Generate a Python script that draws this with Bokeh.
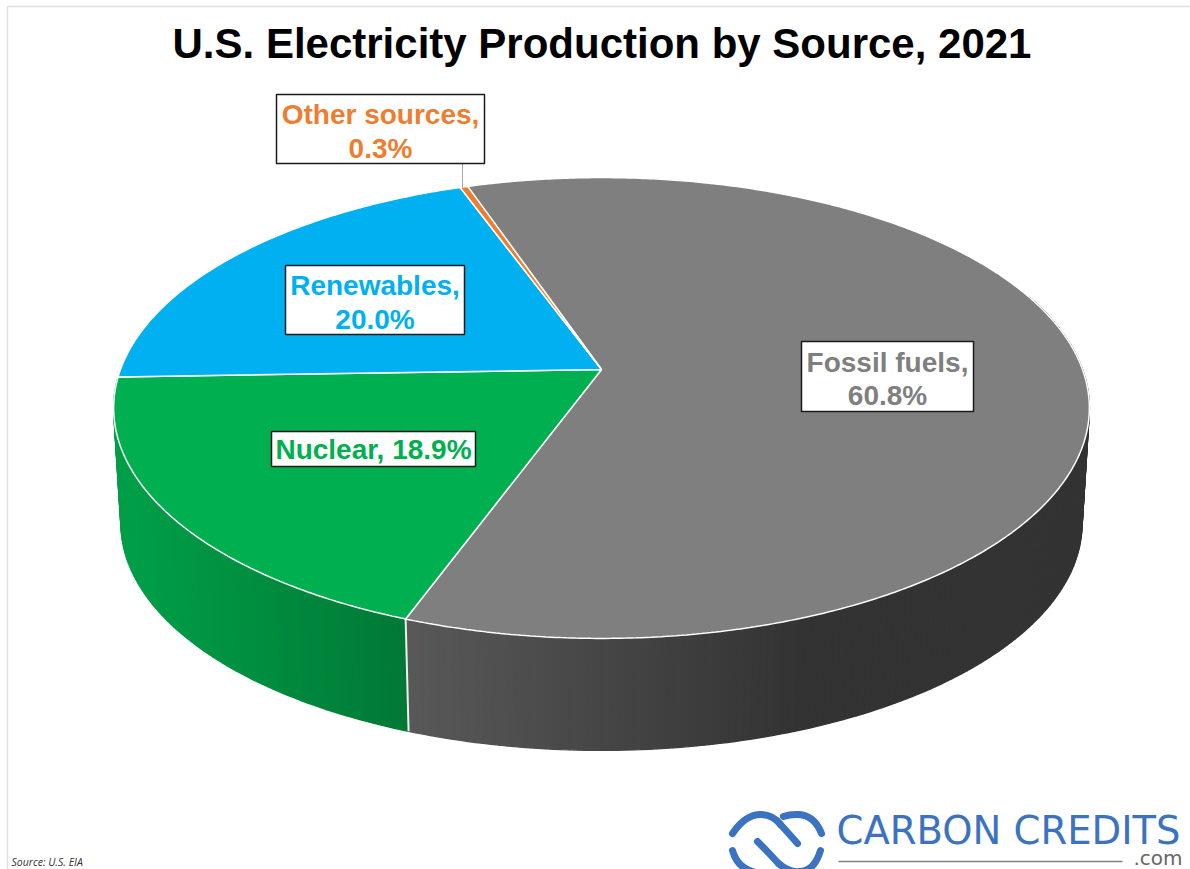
import numpy as np
from bokeh.plotting import figure
from bokeh.models import Range1d
from bokeh.core.properties import value
from bokeh.embed import file_html
from bokeh.resources import INLINE

TITLE = "U.S. Electricity Production by Source, 2021"
sources = ["Fossil fuels", "Nuclear", "Renewables", "Other sources"]
shares = [60.8, 18.9, 20.0, 0.3]
top_colors = ["#7F7F7F", "#00B050", "#00B0F0", "#ED7D31"]

START_DEG = -18.8
CX, CY = 601.0, 369.0
A, B, K = 481.0, 224.0, 0.167
WALL_SCALE, WALL_CY = 0.985, 485.0


def project(theta_deg, scale=1.0, cy=CY):
    t = np.radians(theta_deg)
    u, v = np.sin(t), np.cos(t)
    d = 1 + K * v
    return CX + scale * A * u / d, cy - scale * B * v / d


def mix(c0, c1, f):
    return "#%02x%02x%02x" % tuple(int(round(a + (b - a) * f)) for a, b in zip(c0, c1))


p = figure(width=1190, height=869, output_backend="svg", toolbar_location=None,
           x_range=Range1d(0, 1190), y_range=Range1d(869, 0),
           x_axis_type=None, y_axis_type=None, min_border=0,
           outline_line_color=None, background_fill_color="white")
p.grid.visible = False

# frame edge of the pasted chart
p.line([7, 7, 1190], [869, 6, 6], line_color="#e0e0e0", line_width=1.5)

deg = np.array(shares) / sum(shares) * 360
ends = START_DEG + np.cumsum(deg)
starts = ends - deg

# walls as fine strips (gradient)
wall_grad = [((0x58, 0x58, 0x58), (0x33, 0x33, 0x33), 412, 800),
             ((0x00, 0x9e, 0x48), (0x00, 0x78, 0x35), 130, 412)]
wall_span = [(70, ends[0]), (ends[0], ends[1])]
for (c0, c1, xa, xb), (t0, t1) in zip(wall_grad, wall_span):
    n = int((t1 - t0) / 0.8)
    edges = np.linspace(t0, t1, n + 1)
    xs, ys, cols = [], [], []
    for a, b in zip(edges[:-1], edges[1:]):
        xa0, ya0 = project(a)
        xa1, ya1 = project(b)
        xb0, yb0 = project(a, WALL_SCALE, WALL_CY)
        xb1, yb1 = project(b, WALL_SCALE, WALL_CY)
        xs.append([xa0, xa1, xb1, xb0])
        ys.append([ya0, ya1, yb1, yb0])
        f = np.clip((0.5 * (xa0 + xa1) - xa) / (xb - xa), 0, 1)
        cols.append(mix(c0, c1, f))
    p.patches(xs, ys, fill_color=cols, line_color=cols, line_width=1.4)

# seam between the two walls
sx0, sy0 = project(ends[0])
sx1, sy1 = project(ends[0], WALL_SCALE, WALL_CY)
p.line([sx0, sx1], [sy0, sy1], line_color="#f0f0f0", line_width=2)

# top face
for s, e, c in zip(starts, ends, top_colors):
    th = np.linspace(s, e, max(3, int(e - s) * 2 + 2))
    x, y = project(th)
    p.patch(np.r_[CX, x], np.r_[CY, y], fill_color=c, line_color="white", line_width=1.5)

# leader line
lx, ly = project(starts[3])
p.line([462, 462], [163, ly], line_color="#a6a6a6", line_width=1)

# label boxes
boxes = [(801, 973, 341, 411), (271, 475, 431, 466), (285, 464, 265, 334), (276, 484, 94, 163)]
label_lines = [["Fossil fuels,", "60.8%"], ["Nuclear, 18.9%"], ["Renewables,", "20.0%"], ["Other sources,", "0.3%"]]
text_colors = ["#7F7F7F", "#00B050", "#00B0F0", "#ED7D31"]
for (l, r, t, b), lines, c in zip(boxes, label_lines, text_colors):
    p.quad(left=l, right=r, top=t, bottom=b, fill_color="white", line_color="#1a1a1a", line_width=1.5)
    mid = (t + b) / 2
    offsets = [-14.5, 19] if len(lines) == 2 else [0.5]
    for s, off in zip(lines, offsets):
        p.text([(l + r) / 2], [mid + off], text=[s], text_color=c,
               text_font=value("Liberation Sans"), text_font_style="bold", text_font_size="28px",
               text_align="center", text_baseline="middle")

# title
p.text([601.5], [43], text=[TITLE], text_color="black", text_font=value("Liberation Sans"),
       text_font_style="bold", text_font_size="42px", text_align="center", text_baseline="middle")

# source
p.text([11], [861], text=["Source: U.S. EIA"], text_color="#333333", text_font=value("Open Sans"),
       text_font_style="italic", text_font_size="10.5px", text_align="left", text_baseline="middle")

# logo
LOGO = "#3B73C0"
for x0, y0, cx, cy, x1, y1 in [(732, 833, 745, 814, 760, 814), (760, 814, 772, 814, 780, 824),
                               (780, 824, 790, 835, 797, 843),
                               (783, 816, 790, 813.5, 798, 814), (798, 814, 814, 815, 821, 833),
                               (757, 841, 768, 852, 778, 863), (778, 863, 790, 873, 800, 871),
                               (800, 871, 814, 870, 820, 850),
                               (732, 850, 737, 868, 755, 872)]:
    p.quadratic(x0=[x0], y0=[y0], cx=[cx], cy=[cy], x1=[x1], y1=[y1], line_color=LOGO,
                line_width=7, line_cap="round")
p.text([836], [830], text=["CARBON CREDITS"], text_color=LOGO, text_font=value("DejaVu Sans"),
       text_font_size="38.5px", text_align="left", text_baseline="middle")
p.line([838, 1122], [861, 861], line_color="#808080", line_width=1.5)
p.text([1182], [869], text=[".com"], text_color="#666666", text_font=value("DejaVu Sans"),
       text_font_size="20px", text_align="right", text_baseline="bottom")

open("out.html", "w").write(file_html(p, INLINE))
